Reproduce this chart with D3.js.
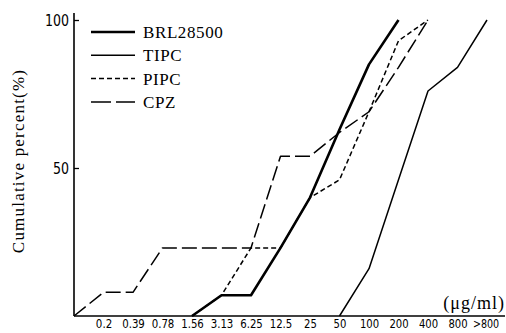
<!DOCTYPE html>
<html>
<head>
<meta charset="utf-8">
<script src="https://cdn.jsdelivr.net/npm/d3@7"></script>
<style>
  body { margin: 0; background: #fff; }
  svg { display: block; }
</style>
</head>
<body>
<svg id="chart" width="506" height="333"></svg>
<script>
// MIC categories (µg/ml); "0" is the origin on the y axis, not labelled
const xLabels = ["0.2", "0.39", "0.78", "1.56", "3.13", "6.25", "12.5", "25", "50", "100", "200", "400", "800", ">800"];
const categories = ["0", ...xLabels];

// cumulative percent per category, null = not drawn
const brl  = [null, null, null, null, 0, 7, 7, 23, 40, 63, 85, 100, null, null, null];
const tipc = [null, null, null, null, null, null, null, null, null, 0, 16, 46, 76, 84, 100];
const pipc = [null, null, null, null, 0, 7, 23, 23, 40, 46, 69, 93, 100, null, null];
const cpz  = [0, 8, 8, 23, 23, 23, 23, 54, 54, 62, 69, 84, 100, null, null];

const seriesNames = ["BRL28500", "TIPC", "PIPC", "CPZ"];
const yTicks = [50, 100];

const styles = {
  BRL28500: { width: 2.6, dash: null },
  TIPC: { width: 1.5, dash: null },
  PIPC: { width: 1.5, dash: "5,3" },
  CPZ: { width: 1.5, dash: "15,5" }
};

const svg = d3.select("#chart");
const x0 = 74, y0 = 316;

const x = d3.scalePoint().domain(categories).range([x0, 487]);
const y = d3.scaleLinear().domain([0, 100]).range([y0, 20]);

const serif = "'Liberation Serif', 'DejaVu Serif', serif";
const cond = "'DejaVu Sans Condensed', 'Liberation Sans Narrow', sans-serif";

// rough width of a condensed label, used to squeeze glyphs like the print
const labelWidth = s => s.split("").reduce((w, ch) => w + (ch === "." ? 3.5 : ch === ">" ? 7 : 6.4), 0);

// axes
svg.append("line")
  .attr("x1", x0).attr("x2", x0).attr("y1", 13).attr("y2", y0)
  .attr("stroke", "#000").attr("stroke-width", 1.6);
svg.append("line")
  .attr("x1", x0).attr("x2", 505).attr("y1", y0).attr("y2", y0)
  .attr("stroke", "#000").attr("stroke-width", 1.6);

const yAxis = svg.append("g")
  .attr("transform", `translate(${x0},0)`)
  .call(d3.axisLeft(y).tickValues(yTicks).tickSizeInner(-5).tickSizeOuter(0).tickPadding(5));
yAxis.select(".domain").remove();
yAxis.selectAll(".tick line").attr("stroke-width", 1.3);
yAxis.selectAll("text")
  .attr("font-family", cond).attr("font-size", 16).attr("fill", "#000")
  .attr("textLength", d => String(d).length * 8).attr("lengthAdjust", "spacingAndGlyphs");

const xAxis = svg.append("g")
  .attr("transform", `translate(0,${y0})`)
  .call(d3.axisBottom(x).tickValues(xLabels).tickSize(0).tickPadding(3));
xAxis.select(".domain").remove();
xAxis.selectAll("text")
  .attr("font-family", cond).attr("font-size", 13).attr("fill", "#000")
  .attr("dx", d => d === ">800" ? -1.5 : 0)
  .attr("textLength", d => labelWidth(d)).attr("lengthAdjust", "spacingAndGlyphs");

// unit
svg.append("text")
  .attr("x", 505).attr("y", 309)
  .attr("text-anchor", "end")
  .attr("font-family", serif).attr("font-size", 18)
  .attr("letter-spacing", 1)
  .text("(\u03bcg/ml)");

// y title
svg.append("text")
  .attr("transform", "translate(24,161) rotate(-90)")
  .attr("text-anchor", "middle")
  .attr("font-family", serif).attr("font-size", 17)
  .attr("letter-spacing", 1.2)
  .text("Cumulative percent(%)");

// lines
const line = d3.line()
  .defined(d => d.v !== null)
  .x(d => x(d.c))
  .y(d => y(d.v));

const seriesData = [brl, tipc, pipc, cpz];
seriesNames.forEach((name, i) => {
  const pts = categories.map((c, j) => ({ c, v: seriesData[i][j] }));
  svg.append("path")
    .datum(pts)
    .attr("d", line)
    .attr("fill", "none")
    .attr("stroke", "#000")
    .attr("stroke-width", styles[name].width)
    .attr("stroke-dasharray", styles[name].dash)
    .attr("stroke-linejoin", "round");
});

// legend
const legend = svg.append("g").attr("transform", "translate(91,32)");
seriesNames.forEach((name, i) => {
  const g = legend.append("g").attr("transform", `translate(0,${i * 23.3})`);
  g.append("line")
    .attr("x1", 0).attr("x2", 44).attr("y1", 0).attr("y2", 0)
    .attr("stroke", "#000")
    .attr("stroke-width", styles[name].width)
    .attr("stroke-dasharray", name === "CPZ" ? "20,5" : styles[name].dash);
  g.append("text")
    .attr("x", 52).attr("y", 6)
    .attr("font-family", serif).attr("font-size", 17)
    .attr("letter-spacing", 0.6)
    .text(name);
});
</script>
</body>
</html>
